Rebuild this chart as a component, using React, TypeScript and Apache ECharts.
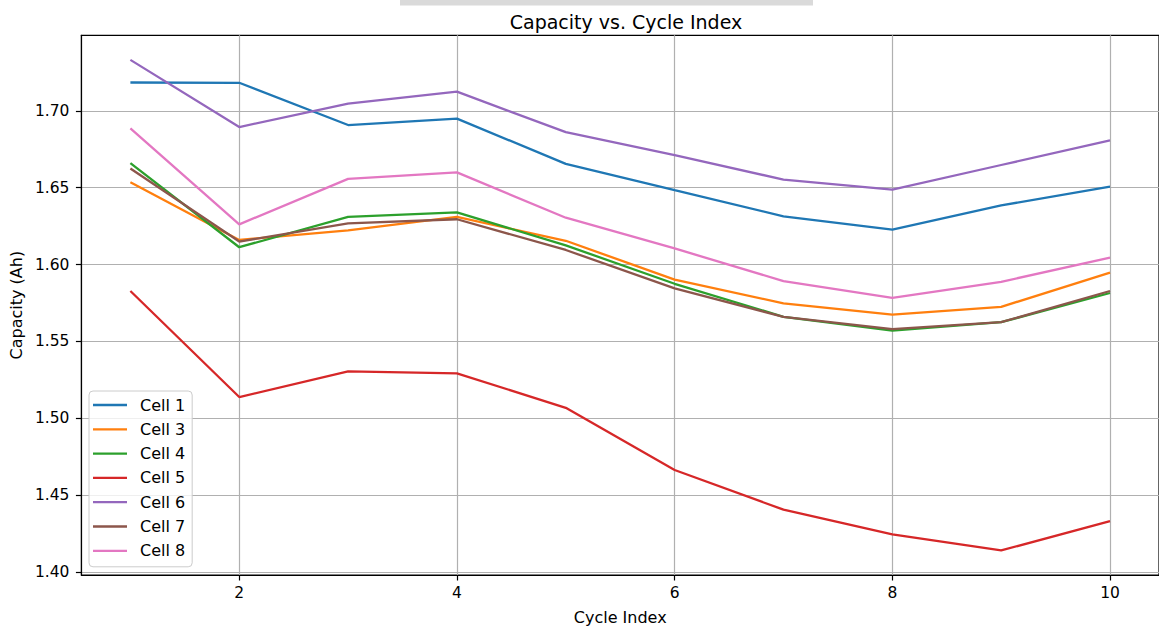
import React, { useEffect, useRef } from "react";
import * as echarts from "echarts";

const cycles = [1, 2, 3, 4, 5, 6, 7, 8, 9, 10];
const cell1 = [1.7185, 1.7183, 1.6908, 1.695, 1.6655, 1.6484, 1.6314, 1.6228, 1.6385, 1.6508];
const cell3 = [1.6536, 1.616, 1.6222, 1.631, 1.6155, 1.5902, 1.5748, 1.5675, 1.5725, 1.5948];
const cell4 = [1.666, 1.6113, 1.631, 1.634, 1.6125, 1.5875, 1.566, 1.557, 1.5625, 1.5815];
const cell5 = [1.5828, 1.5138, 1.5305, 1.5292, 1.5068, 1.4663, 1.4405, 1.4244, 1.414, 1.433];
const cell6 = [1.7332, 1.6895, 1.7047, 1.7125, 1.6862, 1.6712, 1.6553, 1.6488, 1.6648, 1.6808];
const cell7 = [1.6625, 1.615, 1.6268, 1.6295, 1.6095, 1.5845, 1.566, 1.558, 1.5625, 1.5828];
const cell8 = [1.6887, 1.6262, 1.6558, 1.66, 1.6305, 1.6105, 1.5893, 1.5783, 1.5888, 1.6045];

const seriesNames = ["Cell 1", "Cell 3", "Cell 4", "Cell 5", "Cell 6", "Cell 7", "Cell 8"];
const seriesValues = [cell1, cell3, cell4, cell5, cell6, cell7, cell8];
const seriesColors = ["#1f77b4", "#ff7f0e", "#2ca02c", "#d62728", "#9467bd", "#8c564b", "#e377c2"];

const xTicks = [2, 4, 6, 8, 10];
const yTicks = [1.4, 1.45, 1.5, 1.55, 1.6, 1.65, 1.7];
const xMin = 0.55;
const xMax = 10.45;
const yMin = 1.398;
const yMax = 1.7492;

const FONT = "DejaVu Sans";

export default function App() {
  const ref = useRef<HTMLDivElement>(null);
  useEffect(() => {
    if (!ref.current) return;
    const chart = echarts.init(ref.current, undefined, { renderer: "svg" });
    chart.setOption({
      animation: false,
      backgroundColor: "#ffffff",
      textStyle: { fontFamily: FONT },
      title: {
        text: "Capacity vs. Cycle Index",
        left: 621,
        top: 7,
        textAlign: "center",
        textStyle: { fontFamily: FONT, fontSize: 19, fontWeight: "normal", color: "#000" },
      },
      grid: {
        left: 80,
        top: 35.3,
        right: -4,
        bottom: 54.8,
        show: true,
        borderColor: "#000",
        borderWidth: 1.2,
        backgroundColor: "transparent",
      },
      legend: {
        orient: "vertical",
        left: 89,
        top: 391,
        padding: [6, 7, 8, 4],
        itemWidth: 34,
        itemHeight: 2.3,
        itemGap: 8.3,
        icon: "rect",
        backgroundColor: "rgba(255,255,255,0.8)",
        borderColor: "#cccccc",
        borderWidth: 1,
        borderRadius: 4,
        textStyle: { fontFamily: FONT, fontSize: 16, color: "#000", lineHeight: 16, padding: [0, 0, 0, 8] },
        data: seriesNames,
      },
      xAxis: {
        type: "value",
        min: xMin,
        max: xMax,
        name: "Cycle Index",
        nameLocation: "middle",
        nameGap: 34,
        nameTextStyle: { fontFamily: FONT, fontSize: 16, color: "#000" },
        axisLine: { show: true, lineStyle: { color: "#000", width: 1.2 } },
        axisTick: { show: true, customValues: xTicks, length: 5.5, lineStyle: { color: "#000", width: 1.2 } },
        axisLabel: { customValues: xTicks, color: "#000", fontSize: 15.5, fontFamily: FONT, margin: 10 },
        splitLine: { show: true, lineStyle: { color: "#b0b0b0", width: 1.2 } },
      },
      yAxis: {
        type: "value",
        min: yMin,
        max: yMax,
        name: "Capacity (Ah)",
        nameLocation: "middle",
        nameGap: 54,
        nameTextStyle: { fontFamily: FONT, fontSize: 16, color: "#000" },
        axisLine: { show: true, lineStyle: { color: "#000", width: 1.2 } },
        axisTick: { show: true, customValues: yTicks, length: 5.5, lineStyle: { color: "#000", width: 1.2 } },
        axisLabel: {
          customValues: yTicks,
          color: "#000",
          fontSize: 15.5,
          fontFamily: FONT,
          margin: 12,
          formatter: (v: number) => v.toFixed(2),
        },
        splitLine: { show: true, lineStyle: { color: "#b0b0b0", width: 1.2 } },
      },
      graphic: [
        {
          type: "rect",
          shape: { x: 400, y: 0, width: 413, height: 5.5 },
          style: { fill: "#dadada" },
          silent: true,
        },
      ],
      series: seriesNames.map((name, si) => ({
        name,
        type: "line",
        showSymbol: false,
        symbol: "none",
        color: seriesColors[si],
        lineStyle: { width: 2.3, color: seriesColors[si] },
        data: cycles.map((c, i) => [c, seriesValues[si][i]]),
      })),
    });
    return () => chart.dispose();
  }, []);
  return (
    <div
      ref={ref}
      style={{ position: "absolute", left: 0, top: 0, width: 1159, height: 630 }}
    />
  );
}
